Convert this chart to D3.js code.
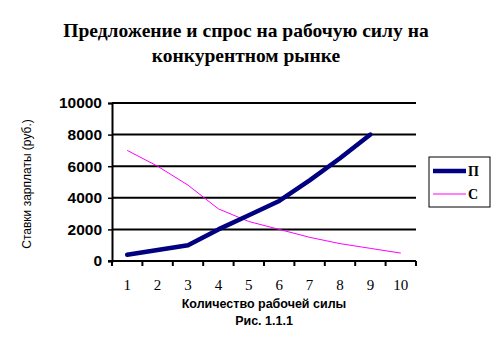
<!DOCTYPE html>
<html>
<head>
<meta charset="utf-8">
<script src="https://cdn.jsdelivr.net/npm/d3@7"></script>
<style>
  body { margin: 0; background: #fff; }
  text { fill: #000; }
</style>
</head>
<body>
<div id="chart"></div>
<script>
// chart data
const categories = [1, 2, 3, 4, 5, 6, 7, 8, 9, 10];
const supply = [400, 700, 1000, 2000, 2900, 3800, 5100, 6500, 8000];   // П
const demand = [7000, 6000, 4800, 3300, 2500, 2000, 1500, 1100, 800, 500]; // С
const yTicks = [0, 2000, 4000, 6000, 8000, 10000];
const titleLines = ['Предложение и спрос на рабочую силу на', 'конкурентном рынке'];

const width = 491, height = 339;
const plot = {left: 112, right: 416, top: 103, bottom: 261};

const svg = d3.select('#chart')
    .append('svg')
    .attr('width', width)
    .attr('height', height);

// scales
const x = d3.scaleBand()
    .domain(categories)
    .range([plot.left, plot.right]);
const y = d3.scaleLinear()
    .domain([0, 10000])
    .range([plot.bottom, plot.top]);

// title
svg.append('g').selectAll('text')
    .data(titleLines)
    .join('text')
    .attr('x', 246)
    .attr('y', (d, i) => 37 + i * 25)
    .attr('text-anchor', 'middle')
    .style('font-family', '"Liberation Serif", serif')
    .style('font-weight', 'bold')
    .style('font-size', '19.5px')
    .text(d => d);

// gridlines
svg.append('g').selectAll('line')
    .data(yTicks.filter(d => d > 0))
    .join('line')
    .attr('x1', plot.left)
    .attr('x2', plot.right)
    .attr('y1', d => y(d))
    .attr('y2', d => y(d))
    .attr('stroke', '#000')
    .attr('stroke-width', 2);

// y axis
const yAxis = svg.append('g')
    .attr('transform', `translate(${plot.left},0)`)
    .call(d3.axisLeft(y).tickValues(yTicks).tickSize(4).tickPadding(6).tickFormat(d3.format('d')));
yAxis.select('.domain').attr('stroke-width', 2);
yAxis.selectAll('.tick line').attr('stroke-width', 1.5);
yAxis.selectAll('.tick text')
    .style('font-family', '"Liberation Sans", Arial, sans-serif')
    .style('font-weight', 'bold')
    .style('font-size', '15.5px')
    .attr('fill', '#000');

// x axis (ticks on category boundaries)
const xAxisG = svg.append('g')
    .attr('transform', `translate(0,${plot.bottom})`);
xAxisG.append('line')
    .attr('x1', plot.left - 4)
    .attr('x2', plot.right)
    .attr('stroke', '#000')
    .attr('stroke-width', 2);
xAxisG.selectAll('.tk')
    .data([x(categories[0])].concat(categories.map(d => x(d) + x.bandwidth())))
    .join('line')
    .attr('class', 'tk')
    .attr('x1', d => d)
    .attr('x2', d => d)
    .attr('y1', 0)
    .attr('y2', 5)
    .attr('stroke', '#000')
    .attr('stroke-width', 2);
xAxisG.selectAll('.lbl')
    .data(categories)
    .join('text')
    .attr('class', 'lbl')
    .attr('x', d => x(d) + x.bandwidth() / 2)
    .attr('y', 29)
    .attr('text-anchor', 'middle')
    .style('font-family', '"Liberation Serif", serif')
    .style('font-size', '15px')
    .text(d => d);

// axis titles
svg.append('text')
    .attr('transform', 'translate(31,184) rotate(-90)')
    .attr('text-anchor', 'middle')
    .style('font-family', '"Liberation Sans", Arial, sans-serif')
    .style('font-size', '12px')
    .text('Ставки зарплаты (руб.)');
svg.append('text')
    .attr('x', 264)
    .attr('y', 308)
    .attr('text-anchor', 'middle')
    .style('font-family', '"Liberation Sans", Arial, sans-serif')
    .style('font-weight', 'bold')
    .style('font-size', '12.5px')
    .text('Количество рабочей силы');
svg.append('text')
    .attr('x', 264)
    .attr('y', 325)
    .attr('text-anchor', 'middle')
    .style('font-family', '"Liberation Sans", Arial, sans-serif')
    .style('font-weight', 'bold')
    .style('font-size', '12.5px')
    .text('Рис. 1.1.1');

// lines
const line = d3.line()
    .x((d, i) => x(categories[i]) + x.bandwidth() / 2)
    .y(d => y(d));

svg.append('path')
    .datum(demand)
    .attr('d', line)
    .attr('fill', 'none')
    .attr('stroke', '#ff00ff')
    .attr('stroke-width', 1);

svg.append('path')
    .datum(supply)
    .attr('d', line)
    .attr('fill', 'none')
    .attr('stroke', '#000080')
    .attr('stroke-width', 4.5)
    .attr('stroke-linejoin', 'round')
    .attr('stroke-linecap', 'round');

// legend
const legendItems = [
    {name: 'П', color: '#000080', w: 4.5},
    {name: 'С', color: '#ff00ff', w: 1}
];
const legend = svg.append('g').attr('transform', 'translate(429,157)');
legend.append('rect')
    .attr('width', 61)
    .attr('height', 50)
    .attr('fill', '#fff')
    .attr('stroke', '#000')
    .attr('stroke-width', 1);
const li = legend.selectAll('.li')
    .data(legendItems)
    .join('g')
    .attr('class', 'li')
    .attr('transform', (d, i) => `translate(0,${14 + i * 23})`);
li.append('line')
    .attr('x1', 4)
    .attr('x2', 37)
    .attr('stroke', d => d.color)
    .attr('stroke-width', d => d.w);
li.append('text')
    .attr('x', 39)
    .attr('y', 5)
    .style('font-family', '"Liberation Serif", serif')
    .style('font-weight', 'bold')
    .style('font-size', '14px')
    .text(d => d.name);
</script>
</body>
</html>
